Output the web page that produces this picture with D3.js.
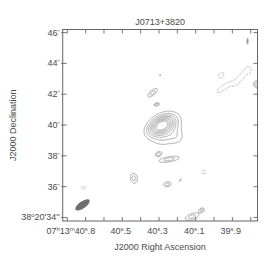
<!DOCTYPE html>
<html>
<head>
<meta charset="utf-8">
<script src="https://cdn.jsdelivr.net/npm/d3@7"></script>
<style>
  body { margin: 0; background: #fff; }
  svg { display: block; font-family: "Liberation Sans", Arial, sans-serif; }
</style>
</head>
<body>
<div id="chart"></div>
<script>
const title = 'J0713+3820';
const raTicks = [40.8, 40.7, 40.6, 40.5, 40.4, 40.3, 40.2, 40.1, 40.0, 39.9, 39.8];
const raLabels = [40.8, 40.5, 40.3, 40.1, 39.9];
const decTicks = [46, 44, 42, 40, 38, 36, 34];

// contour levels (fraction of peak), negative ones drawn dashed
const levels = [0.15, 0.25, 0.35, 0.45, 0.55, 0.65, 0.75, 0.85];
const negLevels = [0.15];

// gaussian components: RA (s of 07h13m), Dec (" of 38d20'), amplitude, FWHM major/minor ("), PA (deg)
const compRa  = [40.289, 40.268, 40.197, 40.336, 40.314, 40.295, 40.304, 40.246, 40.438, 40.255, 40.186, 40.058, 40.713, 40.122, 40.068, 39.772, 39.819, 39.962, 39.946, 39.859, 39.815];
const compDec = [40.00, 39.74, 39.16, 42.11, 41.36, 43.25, 38.12, 37.79, 36.56, 36.17, 36.43, 36.97, 35.94, 34.07, 34.50, 42.66, 45.45, 43.25, 42.47, 43.05, 43.57];
const compAmp = [0.7, 0.38, 0.1, 0.3, 0.3, 0.17, 0.3, 0.3, 0.3, 0.3, 0.2, -0.3, -0.3, 0.3, 0.3, 0.3, 0.3, -0.25, -0.28, -0.27, -0.25];
const compMaj = [1.42, 1.8, 0.8, 0.77, 0.35, 0.2, 0.39, 1.3, 0.65, 0.5, 0.3, 0.3, 0.3, 0.9, 0.32, 0.45, 0.4, 0.45, 1.15, 1.35, 0.4];
const compMin = [0.78, 1.55, 0.8, 0.32, 0.18, 0.2, 0.26, 0.32, 0.45, 0.32, 0.12, 0.2, 0.15, 0.39, 0.25, 0.32, 0.08, 0.35, 0.33, 0.36, 0.35];
const compPa  = [-62, -45, 0, -50, -75, 0, -70, -80, 10, -80, -45, 0, -80, -70, -60, 0, 0, -45, -55, -40, 0];

// restoring beam
const beamRa = 40.717, beamDec = 34.82, beamMaj = 1.1, beamMin = 0.45, beamPa = -55;

const width = 275, height = 263;
const plot = { left: 62.7, right: 257.5, top: 29.5, bottom: 221 };

const svg = d3.select('#chart').append('svg')
  .attr('width', width).attr('height', height);

const x = d3.scaleLinear().domain([40.825, 39.763]).range([plot.left, plot.right]);
const y = d3.scaleLinear().domain([33.77, 46.2]).range([plot.bottom, plot.top]);
const ppa = Math.abs(y(1) - y(0)); // pixels per arcsec

// build the image on a fine grid
const step = 0.5, pad = 3;
const gx0 = plot.left - pad, gy0 = plot.top - pad;
const nx = Math.ceil((plot.right - plot.left + 2 * pad) / step) + 1;
const ny = Math.ceil((plot.bottom - plot.top + 2 * pad) / step) + 1;

const comps = compRa.map((ra, i) => {
  const pa = compPa[i] * Math.PI / 180;
  return {
    cx: x(ra), cy: y(compDec[i]), amp: compAmp[i],
    sM: compMaj[i] * ppa / 2.3548, sm: compMin[i] * ppa / 2.3548,
    ux: -Math.sin(pa), uy: -Math.cos(pa)
  };
});

const values = new Float64Array(nx * ny);
for (let j = 0; j < ny; j++) {
  for (let i = 0; i < nx; i++) {
    const px = gx0 + i * step, py = gy0 + j * step;
    let v = 0;
    for (const c of comps) {
      const dx = px - c.cx, dy = py - c.cy;
      const u = dx * c.ux + dy * c.uy;
      const w = -dx * c.uy + dy * c.ux;
      v += c.amp * Math.exp(-0.5 * (u * u / (c.sM * c.sM) + w * w / (c.sm * c.sm)));
    }
    values[j * nx + i] = v;
  }
}
const negValues = values.map(v => -v);

const toScreen = d3.geoTransform({
  point: function(px, py) { this.stream.point(gx0 + px * step, gy0 + py * step); }
});
const path = d3.geoPath(toScreen);

svg.append('clipPath').attr('id', 'clip').append('rect')
  .attr('x', plot.left).attr('y', plot.top)
  .attr('width', plot.right - plot.left).attr('height', plot.bottom - plot.top);

const g = svg.append('g').attr('clip-path', 'url(#clip)');

g.selectAll('path.pos')
  .data(d3.contours().size([nx, ny]).thresholds(levels)(values))
  .join('path').attr('class', 'pos')
  .attr('d', path)
  .attr('fill', 'none').attr('stroke', '#8a8a8a').attr('stroke-width', 0.7);

g.selectAll('path.neg')
  .data(d3.contours().size([nx, ny]).thresholds(negLevels)(negValues))
  .join('path').attr('class', 'neg')
  .attr('d', path)
  .attr('fill', 'none').attr('stroke', '#8a8a8a').attr('stroke-width', 0.7)
  .attr('stroke-dasharray', '1.6,1.2');

// beam
const bpa = beamPa * Math.PI / 180;
const bAngle = Math.atan2(-Math.cos(bpa), -Math.sin(bpa)) * 180 / Math.PI;
svg.append('ellipse')
  .attr('transform', `translate(${x(beamRa)},${y(beamDec)}) rotate(${bAngle})`)
  .attr('rx', beamMaj * ppa / 2).attr('ry', beamMin * ppa / 2)
  .attr('fill', '#6e6e6e');

// frame
svg.append('rect')
  .attr('x', plot.left).attr('y', plot.top)
  .attr('width', plot.right - plot.left).attr('height', plot.bottom - plot.top)
  .attr('fill', 'none').attr('stroke', '#666').attr('stroke-width', 1);

const tickColor = '#666';
const tk = 4;
const ticks = svg.append('g').attr('stroke', tickColor).attr('stroke-width', 0.9);
raTicks.forEach(v => {
  ticks.append('line').attr('x1', x(v)).attr('x2', x(v)).attr('y1', plot.top).attr('y2', plot.top + tk);
  ticks.append('line').attr('x1', x(v)).attr('x2', x(v)).attr('y1', plot.bottom).attr('y2', plot.bottom - tk);
});
decTicks.forEach(v => {
  ticks.append('line').attr('x1', plot.left - 1.5).attr('x2', plot.left + tk).attr('y1', y(v)).attr('y2', y(v));
  ticks.append('line').attr('x1', plot.right).attr('x2', plot.right - tk).attr('y1', y(v)).attr('y2', y(v));
});

const textColor = '#4a4a4a';
const fs = 9;

// RA labels
raLabels.forEach((v, i) => {
  const t = svg.append('text')
    .attr('y', plot.bottom + 13).attr('fill', textColor).attr('font-size', fs);
  const s = v.toFixed(1).split('.');
  if (i === 0) {
    t.attr('x', x(v) + 28).attr('text-anchor', 'end');
    t.append('tspan').text('07');
    t.append('tspan').attr('dy', -3).attr('font-size', 6).text('h');
    t.append('tspan').attr('dy', 3).text('13');
    t.append('tspan').attr('dy', -3).attr('font-size', 6).text('m');
    t.append('tspan').attr('dy', 3).text(s[0]);
  } else {
    t.attr('x', x(v) - 1.5).attr('text-anchor', 'middle');
    t.append('tspan').text(s[0]);
  }
  t.append('tspan').attr('dy', -3).attr('font-size', 6).text('s');
  t.append('tspan').attr('dy', 3).text('.' + s[1]);
});

// Dec labels
decTicks.forEach(v => {
  const t = svg.append('text')
    .attr('x', plot.left - 3).attr('y', y(v) + 3)
    .attr('text-anchor', 'end').attr('fill', textColor).attr('font-size', fs);
  if (v === 34) {
    t.append('tspan').text('38');
    t.append('tspan').attr('dy', -3).attr('font-size', 6).text('o');
    t.append('tspan').attr('dy', 3).text("20'34''");
  } else {
    t.append('tspan').text(v);
    t.append('tspan').attr('dy', -2).attr('font-size', 6).text('"');
  }
});

svg.append('text')
  .attr('x', (plot.left + plot.right) / 2).attr('y', 25)
  .attr('text-anchor', 'middle').attr('fill', textColor).attr('font-size', fs)
  .text(title);

svg.append('text')
  .attr('x', (plot.left + plot.right) / 2).attr('y', 250)
  .attr('text-anchor', 'middle').attr('fill', textColor).attr('font-size', fs)
  .text('J2000 Right Ascension');

svg.append('text')
  .attr('transform', `translate(16,${(plot.top + plot.bottom) / 2}) rotate(-90)`)
  .attr('text-anchor', 'middle').attr('fill', textColor).attr('font-size', fs)
  .text('J2000 Declination');
</script>
</body>
</html>
